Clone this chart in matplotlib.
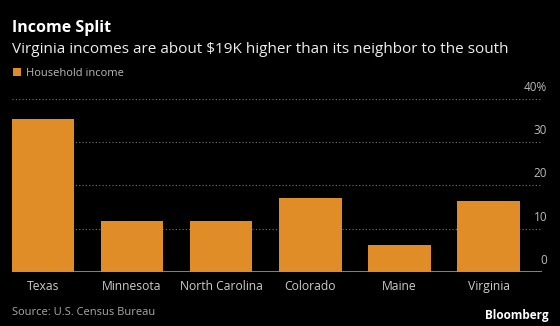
import matplotlib.pyplot as plt
from matplotlib.patches import Rectangle
import matplotlib.transforms as mtransforms

states = ['Texas', 'Minnesota', 'North Carolina', 'Colorado', 'Maine', 'Virginia']
income = [35.5, 11.7, 11.7, 17.2, 6.3, 16.3]
yticks = [0, 10, 20, 30, 40]
ytick_labels = ['0', '10', '20', '30', '40%']

orange = '#E08D28'
bg = '#000000'

plt.rcParams['font.family'] = ['Open Sans', 'DejaVu Sans']

fig = plt.figure(figsize=(5.6, 3.26), dpi=100, facecolor=bg)
ax = fig.add_axes([0.021, 0.166, 0.947, 0.530], facecolor=bg)

x = range(len(states))
ax.bar(x, income, width=0.7, color=orange, zorder=3)

ax.set_xlim(-0.35, 5.6)
ax.set_ylim(0, 40)

# dotted grid lines
for t in yticks[1:]:
    ax.axhline(t, color='#777777', linestyle=(0, (1, 2)), linewidth=0.8, zorder=1)
ax.axhline(0, color='#999999', linewidth=1.2, zorder=4)

# tick labels sit above the grid lines, right side
trans = mtransforms.blended_transform_factory(fig.transFigure, ax.transData)
for t, lab in zip(yticks, ytick_labels):
    ax.text(0.977, t + 1.2, lab, transform=trans, ha='right', va='bottom',
            color='#BBBBBB', fontsize=8.5)

for s in ax.spines.values():
    s.set_visible(False)
ax.set_yticks([])
ax.set_xticks(list(x))
ax.set_xticklabels(states, color='#CCCCCC', fontsize=8.7)
ax.tick_params(axis='x', length=0, pad=6)

# titles
fig.text(0.021, 0.903, 'Income Split', color='white', fontsize=11.5,
         fontweight='bold', va='baseline')
fig.text(0.021, 0.836, 'Virginia incomes are about $19K higher than its neighbor to the south',
         color='#EEEEEE', fontsize=11, va='baseline')

# legend
fig.patches.append(Rectangle((0.023, 0.766), 0.014, 0.026, transform=fig.transFigure,
                             facecolor=orange, edgecolor='none'))
fig.text(0.046, 0.767, 'Household income', color='#BBBBBB', fontsize=8, va='baseline')

# footer
fig.text(0.021, 0.035, 'Source: U.S. Census Bureau', color='#AAAAAA', fontsize=8, va='baseline')
fig.text(0.98, 0.022, 'Bloomberg', color='white', fontsize=8.5, fontweight='bold',
         ha='right', va='baseline')

fig.savefig('out.png', dpi=100, facecolor=bg)
